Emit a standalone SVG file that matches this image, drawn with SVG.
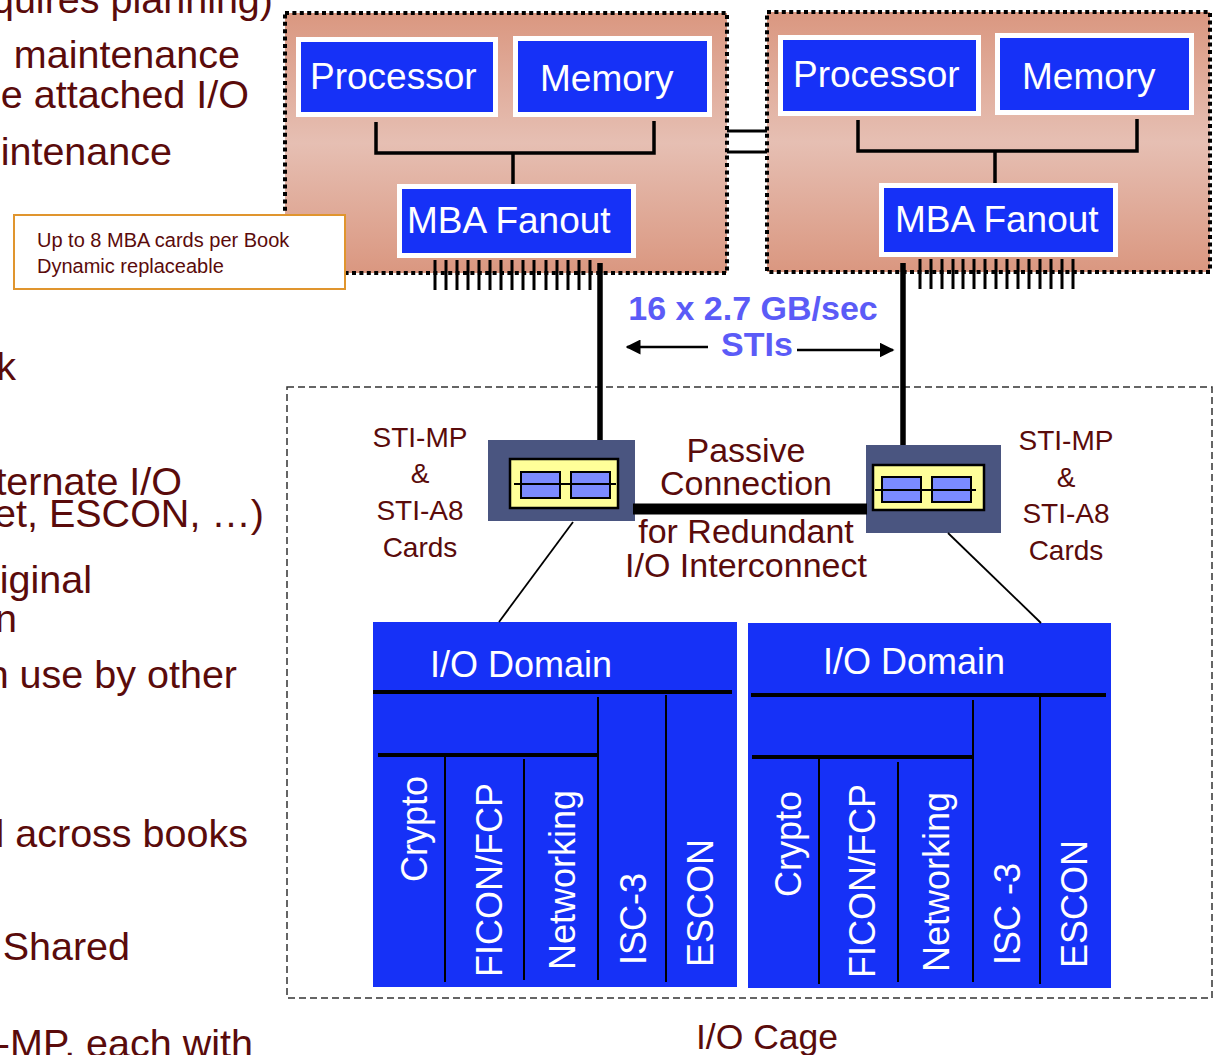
<svg xmlns="http://www.w3.org/2000/svg" width="1215" height="1055" viewBox="0 0 1215 1055">
<defs>
<linearGradient id="bookGrad" x1="0" y1="0" x2="0" y2="1">
<stop offset="0" stop-color="#DA9780"/>
<stop offset="0.5" stop-color="#E6BFB3"/>
<stop offset="1" stop-color="#DA9780"/>
</linearGradient>
<marker id="arr" viewBox="0 0 10 10" refX="9" refY="5" markerWidth="6" markerHeight="6" orient="auto-start-reverse" markerUnits="strokeWidth">
<path d="M0,0 L10,5 L0,10 z" fill="#000"/>
</marker>
</defs>
<style>
text{font-family:"Liberation Sans",Arial,sans-serif}
.left{font-size:39.5px;fill:#5A0B0B;text-anchor:end}
.maroon{fill:#5A0B0B}
.white{fill:#fff}
.book{fill:url(#bookGrad);stroke:#000;stroke-width:4;stroke-dasharray:4 3.4}
.boxo{fill:#fff}
.boxi{fill:#1631F7}
.btxt{font-size:37px;fill:#fff}
.bus{stroke:#000;stroke-width:3.5;fill:none}
.tick{stroke:#000;stroke-width:3}
.thick{stroke:#000;stroke-width:5.5}
.card{fill:#4A5580}
.yel{fill:#FFFF99;stroke:#000;stroke-width:2.5}
.lav{fill:#7B8BFF;stroke:#000;stroke-width:2}
.sti{font-size:28px;fill:#5A0B0B;text-anchor:middle}
.dom{fill:#1631F7}
.dl{stroke:#000;stroke-width:4}
.vl{stroke:#000;stroke-width:2}
.vt{font-size:36px;fill:#fff}
.thin{stroke:#000;stroke-width:1.8}
</style>

<g id="left-text">
<text class="left" x="273" y="13">quires planning)</text>
<text class="left" x="240" y="68">maintenance</text>
<text class="left" x="249" y="108">e attached I/O</text>
<text class="left" x="172" y="165">intenance</text>
<text class="left" x="16" y="380">k</text>
<text class="left" x="182" y="495">ternate I/O</text>
<text class="left" x="264" y="527">et, ESCON, …)</text>
<text class="left" x="92" y="593">iginal</text>
<text class="left" x="17" y="632">n</text>
<text class="left" x="237" y="688">n use by other</text>
<text class="left" x="248" y="847">l across books</text>
<text class="left" x="130" y="960">Shared</text>
<text class="left" x="253" y="1057">-MP, each with</text>
</g>

<g id="book1">
<rect class="book" x="285" y="13" width="442" height="260"/>
<g id="book1-processor">
<rect class="boxo" x="296" y="37" width="202" height="80"/>
<rect class="boxi" x="301" y="42" width="192" height="70"/>
<text class="btxt" x="310" y="89">Processor</text>
</g>
<g id="book1-memory">
<rect class="boxo" x="513" y="36" width="199" height="81"/>
<rect class="boxi" x="518" y="41" width="189" height="71"/>
<text class="btxt" x="540" y="91">Memory</text>
</g>
<g id="book1-mba">
<rect class="boxo" x="397" y="184" width="239" height="74"/>
<rect class="boxi" x="402" y="189" width="229" height="64"/>
<text class="btxt" x="407" y="233">MBA Fanout</text>
</g>
</g>

<g id="book2">
<rect class="book" x="767" y="12" width="443" height="260"/>
<g id="book2-processor">
<rect class="boxo" x="778" y="35" width="203" height="81"/>
<rect class="boxi" x="783" y="40" width="193" height="71"/>
<text class="btxt" x="793" y="87">Processor</text>
</g>
<g id="book2-memory">
<rect class="boxo" x="995" y="33" width="199" height="82"/>
<rect class="boxi" x="1000" y="38" width="189" height="72"/>
<text class="btxt" x="1022" y="89">Memory</text>
</g>
<g id="book2-mba">
<rect class="boxo" x="879" y="183" width="239" height="74"/>
<rect class="boxi" x="884" y="188" width="229" height="64"/>
<text class="btxt" x="895" y="232">MBA Fanout</text>
</g>
</g>

<g id="legend">
<rect x="14" y="215" width="331" height="74" fill="#fff" stroke="#E0952E" stroke-width="2"/>
<text class="maroon" x="37" y="247" font-size="20">Up to 8 MBA cards per Book</text>
<text class="maroon" x="37" y="273" font-size="20">Dynamic replaceable</text>
</g>

<g id="sti-label">
<text x="753" y="320" font-size="34" font-weight="bold" fill="#5B5BF7" text-anchor="middle">16 x 2.7 GB/sec</text>
<text x="757" y="356" font-size="34" font-weight="bold" fill="#5B5BF7" text-anchor="middle">STIs</text>
</g>

<g id="io-cage">
<rect x="287" y="387" width="925" height="611" fill="none" stroke="#333" stroke-width="1.5" stroke-dasharray="7 4"/>
<text class="maroon" x="767" y="1049" font-size="35.5" text-anchor="middle">I/O Cage</text>
</g>

<g id="sti-card1">
<rect class="card" x="488" y="440" width="147" height="81"/>
<rect class="yel" x="510" y="459" width="108" height="49"/>
<rect class="lav" x="521" y="472" width="39" height="26"/>
<rect class="lav" x="571" y="472" width="39" height="26"/>
<line class="thin" x1="514" y1="484" x2="616" y2="484"/>
</g>
<g id="sti-card2">
<rect class="card" x="866" y="445" width="135" height="88"/>
<rect class="yel" x="873" y="465" width="111" height="45"/>
<rect class="lav" x="882" y="477" width="39" height="25"/>
<rect class="lav" x="932" y="477" width="39" height="25"/>
<line class="thin" x1="875" y1="490" x2="976" y2="490"/>
</g>

<g id="sti-text">
<text class="sti" x="420" y="447">STI-MP</text>
<text class="sti" x="420" y="483">&amp;</text>
<text class="sti" x="420" y="520">STI-A8</text>
<text class="sti" x="420" y="557">Cards</text>
<text class="sti" x="1066" y="450">STI-MP</text>
<text class="sti" x="1066" y="487">&amp;</text>
<text class="sti" x="1066" y="523">STI-A8</text>
<text class="sti" x="1066" y="560">Cards</text>
</g>

<g id="passive-text" class="maroon" font-size="34" text-anchor="middle">
<text x="746" y="462">Passive</text>
<text x="746" y="495">Connection</text>
<text x="746" y="543">for Redundant</text>
<text x="746" y="577">I/O Interconnect</text>
</g>

<g id="io-domain1">
<rect class="dom" x="373" y="622" width="364" height="365"/>
<text class="white" x="430" y="677" font-size="36">I/O Domain</text>
<line class="dl" x1="373" y1="692" x2="732" y2="692"/>
<line class="dl" x1="378" y1="755" x2="597" y2="755"/>
<line class="vl" x1="445" y1="755" x2="445" y2="982"/>
<line class="vl" x1="524" y1="759" x2="524" y2="980"/>
<line class="vl" x1="598" y1="697" x2="598" y2="980"/>
<line class="vl" x1="666" y1="695" x2="666" y2="982"/>
<text class="vt" transform="translate(427,882) rotate(-90)">Crypto</text>
<text class="vt" transform="translate(502,977) rotate(-90)">FICON/FCP</text>
<text class="vt" transform="translate(575,970) rotate(-90)">Networking</text>
<text class="vt" transform="translate(646,965) rotate(-90)">ISC-3</text>
<text class="vt" transform="translate(713,967) rotate(-90)">ESCON</text>
</g>

<g id="io-domain2">
<rect class="dom" x="748" y="623" width="363" height="365"/>
<text class="white" x="823" y="674" font-size="36">I/O Domain</text>
<line class="dl" x1="751" y1="695" x2="1106" y2="695"/>
<line class="dl" x1="752" y1="757" x2="972" y2="757"/>
<line class="vl" x1="819" y1="757" x2="819" y2="984"/>
<line class="vl" x1="898" y1="762" x2="898" y2="982"/>
<line class="vl" x1="973" y1="700" x2="973" y2="982"/>
<line class="vl" x1="1040" y1="697" x2="1040" y2="984"/>
<text class="vt" transform="translate(801,897) rotate(-90)">Crypto</text>
<text class="vt" transform="translate(875,978) rotate(-90)">FICON/FCP</text>
<text class="vt" transform="translate(949,972) rotate(-90)">Networking</text>
<text class="vt" transform="translate(1020,965) rotate(-90)">ISC -3</text>
<text class="vt" transform="translate(1087,968) rotate(-90)">ESCON</text>
</g>

<g id="connectors">
<path class="bus" d="M376,122 V153 H654 V121 M513,153 V184"/>
<path class="bus" d="M858,120 V151 H1137 V119 M995,151 V183"/>
<line x1="727" y1="131" x2="767" y2="131" stroke="#000" stroke-width="3"/>
<line x1="727" y1="152" x2="767" y2="152" stroke="#000" stroke-width="3"/>
<g class="tick">
<line x1="435" y1="260" x2="435" y2="290"/><line x1="446" y1="260" x2="446" y2="290"/>
<line x1="457" y1="260" x2="457" y2="290"/><line x1="468" y1="260" x2="468" y2="290"/>
<line x1="479" y1="260" x2="479" y2="290"/><line x1="490" y1="260" x2="490" y2="290"/>
<line x1="501" y1="260" x2="501" y2="290"/><line x1="512" y1="260" x2="512" y2="290"/>
<line x1="523" y1="260" x2="523" y2="290"/><line x1="534" y1="260" x2="534" y2="290"/>
<line x1="546" y1="260" x2="546" y2="290"/><line x1="557" y1="260" x2="557" y2="290"/>
<line x1="568" y1="260" x2="568" y2="290"/><line x1="579" y1="260" x2="579" y2="290"/>
<line x1="590" y1="260" x2="590" y2="290"/>
<line x1="920" y1="259" x2="920" y2="289"/><line x1="931" y1="259" x2="931" y2="289"/>
<line x1="942" y1="259" x2="942" y2="289"/><line x1="953" y1="259" x2="953" y2="289"/>
<line x1="963" y1="259" x2="963" y2="289"/><line x1="974" y1="259" x2="974" y2="289"/>
<line x1="985" y1="259" x2="985" y2="289"/><line x1="996" y1="259" x2="996" y2="289"/>
<line x1="1007" y1="259" x2="1007" y2="289"/><line x1="1018" y1="259" x2="1018" y2="289"/>
<line x1="1029" y1="259" x2="1029" y2="289"/><line x1="1040" y1="259" x2="1040" y2="289"/>
<line x1="1051" y1="259" x2="1051" y2="289"/><line x1="1062" y1="259" x2="1062" y2="289"/>
<line x1="1073" y1="259" x2="1073" y2="289"/>
</g>
<line class="thick" x1="600" y1="263" x2="600" y2="440"/>
<line class="thick" x1="903" y1="263" x2="903" y2="445"/>
<line x1="708" y1="347" x2="627" y2="347" stroke="#000" stroke-width="2.5" marker-end="url(#arr)"/>
<line x1="797" y1="350" x2="893" y2="350" stroke="#000" stroke-width="2.5" marker-end="url(#arr)"/>
<line x1="633" y1="509" x2="867" y2="509" stroke="#000" stroke-width="11"/>
<line x1="573" y1="522" x2="499" y2="622" stroke="#000" stroke-width="1.8"/>
<line x1="948" y1="533" x2="1041" y2="623" stroke="#000" stroke-width="1.8"/>
</g>
</svg>
